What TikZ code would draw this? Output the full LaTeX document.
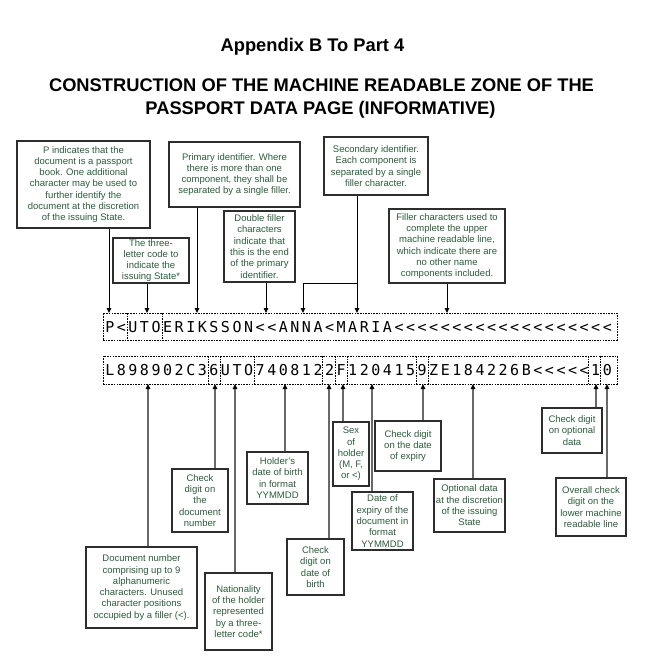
\documentclass[tikz,border=0pt]{standalone}
\usepackage{fontspec}
\setmainfont{Liberation Sans}
\newfontfamily\mrzfont{DejaVu Sans Mono}
\usetikzlibrary{arrows.meta}
\definecolor{txtgreen}{RGB}{44,92,58}
\definecolor{boxline}{RGB}{45,45,45}
\definecolor{lowline}{RGB}{105,105,105}
\begin{document}
\begin{tikzpicture}[x=1pt,y=-1pt,
  note/.style={draw=boxline, line width=1.1pt, fill=white, inner sep=0pt, align=center,
    text=txtgreen, font=\fontsize{9.5}{11.3}\selectfont},
  titletext/.style={font=\fontsize{18.3}{23}\selectfont\bfseries, anchor=base, inner sep=0pt},
  mrzbox/.style={draw=black, line width=0.8pt, dash pattern=on 1.6pt off 1.1pt, inner sep=0pt},
  mrzdiv/.style={draw=black, line width=0.8pt, dash pattern=on 1.6pt off 1.1pt},
  mrzchar/.style={font=\mrzfont\fontsize{15}{16}\selectfont, inner sep=0pt, anchor=base},
  toparrow/.style={draw=black, line width=0.9pt, -{Triangle[length=5pt,width=4.5pt]}},
  botarrow/.style={draw=lowline, line width=1.6pt, -{Triangle[length=5pt,width=4.5pt,color=black]}}
]
\useasboundingbox (0,0) rectangle (656,666);

% titles
\node[titletext] (t1) at (312.5,52) {Appendix B To Part 4};
\node[titletext] (t2) at (321.5,92) {CONSTRUCTION OF THE MACHINE READABLE ZONE OF THE};
\node[titletext] (t3) at (320.5,115) {PASSPORT DATA PAGE (INFORMATIVE)};

% MRZ lines
\node[mrzbox, minimum width=514pt, minimum height=27pt] (l1) at (360,326.5) {};
\node[mrzbox, minimum width=514pt, minimum height=28pt] (l2) at (360,370) {};
\foreach \x in {127,162} \draw[mrzdiv] (\x,313) -- (\x,340);
\foreach \x in {208,220,254,322,335,347,416,428,588,600} \draw[mrzdiv] (\x,356) -- (\x,384);

\foreach \c [count=\i from 0] in {P,<,U,T,O,E,R,I,K,S,S,O,N,<,<,A,N,N,A,<,M,A,R,I,A,<,<,<,<,<,<,<,<,<,<,<,<,<,<,<,<,<,<,<}
  \node[mrzchar] (u\i) at ({104+(\i+0.5)*11.57},332) {\c};
\foreach \c [count=\i from 0] in {L,8,9,8,9,0,2,C,3,6,U,T,O,7,4,0,8,1,2,2,F,1,2,0,4,1,5,9,Z,E,1,8,4,2,2,6,B,<,<,<,<,<,1,0}
  \node[mrzchar] (w\i) at ({104+(\i+0.5)*11.57},375.5) {\c};

% upper notes
\node[note, minimum width=133pt, minimum height=87pt] (b1) at (83.5,184.5)
  {P indicates that the\\document is a passport\\book. One additional\\character may be used to\\further identify the\\document at the discretion\\of the issuing State.};
\node[note, minimum width=76pt, minimum height=45pt] (b2) at (151,260.5)
  {The three-\\letter code to\\indicate the\\issuing State*};
\node[note, minimum width=131pt, minimum height=65pt] (b3) at (234.5,174.5)
  {Primary identifier. Where\\there is more than one\\component, they shall be\\separated by a single filler.};
\node[note, minimum width=71pt, minimum height=71pt] (b4) at (259.5,246.5)
  {Double filler\\characters\\indicate that\\this is the end\\of the primary\\identifier.};
\node[note, minimum width=104pt, minimum height=58pt] (b5) at (376,166)
  {Secondary identifier.\\Each component is\\separated by a single\\filler character.};
\node[note, minimum width=116pt, minimum height=74pt] (b6) at (447,246)
  {Filler characters used to\\complete the upper\\machine readable line,\\which indicate there are\\no other name\\components included.};

% upper connectors
\coordinate (p1) at (109,313);
\coordinate (p2) at (147,313);
\coordinate (p3) at (197,313);
\coordinate (p4) at (266,313);
\coordinate (p5) at (357,313);
\coordinate (p5b) at (303,313);
\coordinate (j5) at (357,283);
\coordinate (p6) at (447,313);
\draw[toparrow] (b1.south -| p1) -- (p1);
\draw[toparrow] (b2.south -| p2) -- (p2);
\draw[toparrow] (b3.south -| p3) -- (p3);
\draw[toparrow] (b4.south -| p4) -- (p4);
\draw[toparrow] (b5.south -| p5) -- (p5);
\draw[toparrow] (j5) -| (p5b);
\draw[toparrow] (b6.south -| p6) -- (p6);

% lower notes
\node[note, minimum width=111pt, minimum height=81pt] (d1) at (141.5,587.5)
  {Document number\\comprising up to 9\\alphanumeric\\characters. Unused\\character positions\\occupied by a filler (<).};
\node[note, minimum width=56pt, minimum height=63pt] (d2) at (200,500.5)
  {Check\\digit on\\the\\document\\number};
\node[note, minimum width=67pt, minimum height=77pt] (d3) at (238.5,611.5)
  {Nationality\\of the holder\\represented\\by a three-\\letter code*};
\node[note, minimum width=61pt, minimum height=52pt] (d4) at (277.5,478)
  {Holder's\\date of birth\\in format\\YYMMDD};
\node[note, minimum width=57pt, minimum height=56pt] (d5) at (315.5,567)
  {Check\\digit on\\date of\\birth};
\node[note, minimum width=36pt, minimum height=64pt] (d6) at (351,454)
  {Sex\\of\\holder\\(M, F,\\or <)};
\node[note, minimum width=61pt, minimum height=58pt] (d7) at (382.5,521)
  {Date of\\expiry of the\\document in\\format\\YYMMDD};
\node[note, minimum width=66pt, minimum height=50pt] (d8) at (408,446)
  {Check digit\\on the date\\of expiry};
\node[note, minimum width=71pt, minimum height=53pt] (d9) at (469.5,505.5)
  {Optional data\\at the discretion\\of the issuing\\State};
\node[note, minimum width=60pt, minimum height=45pt] (d10) at (572,430.5)
  {Check digit\\on optional\\data};
\node[note, minimum width=70pt, minimum height=58pt] (d11) at (591,507)
  {Overall check\\digit on the\\lower machine\\readable line};

% lower connectors
\coordinate (q1) at (148,384);
\coordinate (q2) at (215,384);
\coordinate (q3) at (235,384);
\coordinate (q4) at (285,384);
\coordinate (q5) at (329,384);
\coordinate (q6) at (343,384);
\coordinate (q7) at (372,384);
\coordinate (q8) at (423,384);
\coordinate (q9) at (473,384);
\coordinate (q10) at (596,384);
\coordinate (q11) at (607,384);
\draw[botarrow] (d1.north -| q1) -- (q1);
\draw[botarrow] (d2.north -| q2) -- (q2);
\draw[botarrow] (d3.north -| q3) -- (q3);
\draw[botarrow] (d4.north -| q4) -- (q4);
\draw[botarrow] (d5.north -| q5) -- (q5);
\draw[botarrow] (d6.north -| q6) -- (q6);
\draw[botarrow] (d7.north -| q7) -- (q7);
\draw[botarrow] (d8.north -| q8) -- (q8);
\draw[botarrow] (d9.north -| q9) -- (q9);
\draw[botarrow] (d10.north -| q10) -- (q10);
\draw[botarrow] (d11.north -| q11) -- (q11);
\end{tikzpicture}
\end{document}
